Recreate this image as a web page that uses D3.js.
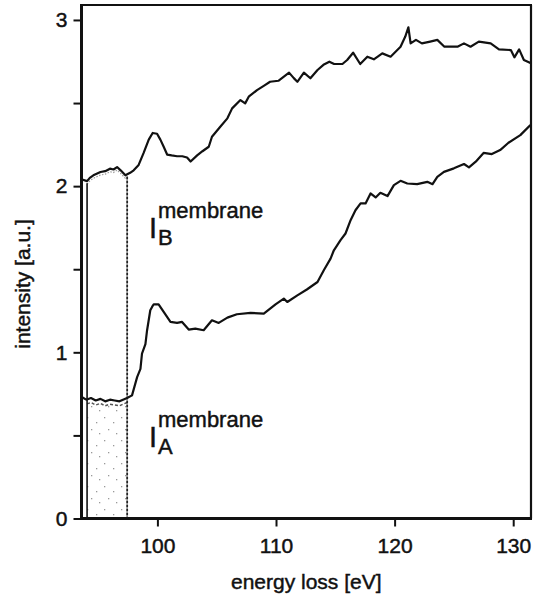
<!DOCTYPE html>
<html><head><meta charset="utf-8">
<script src="https://cdn.jsdelivr.net/npm/d3@7"></script>
<style>
body{margin:0;background:#fff;}
svg{display:block;font-family:"Liberation Sans",Arial,Helvetica,sans-serif;}
svg text{stroke:#111;stroke-width:0.45px;}
</style></head>
<body><svg id="c" width="533" height="601"></svg>
<script>
// ---- data ----
const energyB = [93.65,94.07,94.3,94.6,95.2,95.6,96.0,96.3,96.6,96.9,97.3,97.7,98.0,98.4,98.84,99.27,99.6,99.97,100.25,100.53,100.82,101.2,101.66,102.1,102.5,102.8,103.35,103.8,104.33,104.6,105.3,105.9,106.3,107.0,107.4,107.7,108.4,109.0,109.5,110.2,111.1,111.5,111.8,112.35,112.9,113.5,114.0,114.5,114.9,115.6,116.0,116.5,117.1,117.7,118.25,118.96,119.66,120.1,120.5,120.9,121.16,121.35,121.8,122.3,123.0,123.6,124.2,125.3,125.85,126.4,127.1,128.1,128.8,129.8,130.1,130.5,130.9,131.5];
const intensityB = [2.04,2.03,2.05,2.065,2.085,2.09,2.105,2.1,2.115,2.095,2.065,2.08,2.095,2.125,2.2,2.28,2.32,2.315,2.28,2.237,2.19,2.185,2.18,2.18,2.172,2.148,2.185,2.21,2.237,2.297,2.357,2.408,2.468,2.518,2.498,2.538,2.578,2.605,2.628,2.634,2.683,2.65,2.628,2.683,2.649,2.699,2.73,2.749,2.735,2.735,2.759,2.803,2.735,2.779,2.763,2.799,2.779,2.81,2.839,2.9,2.956,2.859,2.88,2.859,2.87,2.88,2.839,2.839,2.859,2.839,2.87,2.859,2.823,2.819,2.775,2.823,2.759,2.739];
const energyA = [93.65,94.0,94.4,94.8,95.2,95.6,96.0,96.4,96.8,97.1,97.44,97.86,98.29,98.57,98.7,98.99,99.13,99.4,99.55,99.69,100.1,100.53,101.1,101.66,102.08,102.64,103.2,103.9,104.6,105.17,105.9,106.7,107.85,108.97,109.96,110.66,110.95,111.8,112.6,113.5,114.03,114.6,114.88,115.44,115.86,116.29,116.7,117.13,117.55,117.97,118.4,118.8,119.4,119.94,120.5,121.07,121.9,122.76,123.2,123.6,124.16,125.0,125.85,126.27,126.84,127.5,128.2,128.9,129.6,130.6,131.45];
const intensityA = [0.73,0.715,0.725,0.71,0.72,0.705,0.715,0.71,0.705,0.715,0.725,0.741,0.851,0.90,0.992,1.05,1.133,1.253,1.273,1.289,1.289,1.243,1.183,1.177,1.183,1.137,1.143,1.133,1.193,1.177,1.209,1.229,1.237,1.233,1.289,1.323,1.303,1.343,1.378,1.423,1.494,1.564,1.614,1.675,1.715,1.795,1.855,1.896,1.896,1.956,1.932,1.96,1.94,2.006,2.032,2.016,2.012,2.026,2.012,2.056,2.086,2.107,2.133,2.113,2.147,2.2,2.193,2.217,2.261,2.307,2.367];
const windowEnergy = [94.07, 97.45];
const xTicks = [100,110,120,130];
const yTicks = [0,0.5,1,1.5,2,2.5,3];
const xTitle = "energy loss [eV]";
const yTitle = "intensity [a.u.]";

// ---- layout ----
const L=81.5, R=531, T=5, B=518.5;
const svg = d3.select("#c");
const x = d3.scaleLinear().domain([93.6,131.5]).range([L,R]);
const y = d3.scaleLinear().domain([0,3.09]).range([B,T]);

const defs = svg.append("defs");
defs.append("clipPath").attr("id","clip").append("rect")
  .attr("x",L).attr("y",T).attr("width",R-L).attr("height",B-T);
const pat = defs.append("pattern").attr("id","stip").attr("patternUnits","userSpaceOnUse")
  .attr("width",17).attr("height",23);
[[2,3],[11,8],[6,15],[14,19]].forEach(p=>pat.append("rect").attr("x",p[0]).attr("y",p[1])
  .attr("width",1.3).attr("height",1.3).attr("fill","#999"));

const B_ = energyB.map((e,i)=>[e,intensityB[i]]);
const A_ = energyA.map((e,i)=>[e,intensityA[i]]);
const line = d3.line().x(d=>x(d[0])).y(d=>y(d[1]));
const interp = (arr,e)=>{for(let i=1;i<arr.length;i++){if(arr[i][0]>=e){const t=(e-arr[i-1][0])/(arr[i][0]-arr[i-1][0]);return arr[i-1][1]+t*(arr[i][1]-arr[i-1][1]);}}return arr[arr.length-1][1];};
const [w0,w1]=windowEnergy;
const inWin = arr => [[w0,interp(arr,w0)]].concat(arr.filter(d=>d[0]>w0&&d[0]<w1)).concat([[w1,interp(arr,w1)]]);
const Aw = inWin(A_), Bw = inWin(B_);

const g = svg.append("g").attr("clip-path","url(#clip)");
const area = d3.area().x(d=>x(d[0])).y0(y(0)).y1(d=>y(d[1])+5);
g.append("path").datum(Aw).attr("d",area).attr("fill","url(#stip)");
g.append("path").datum(Bw).attr("d",line).attr("transform","translate(0,3)")
  .attr("fill","none").attr("stroke","#999").attr("stroke-width",1.2).attr("stroke-dasharray","1.5,1.5");
g.append("path").datum(Aw).attr("d",line).attr("transform","translate(0,4.5)")
  .attr("fill","none").attr("stroke","#555").attr("stroke-width",1.5).attr("stroke-dasharray","3,2");
g.append("line").attr("x1",x(w0)).attr("x2",x(w0)).attr("y1",y(interp(B_,w0))+2).attr("y2",y(0))
  .attr("stroke","#111").attr("stroke-width",1.6);
g.append("line").attr("x1",x(w1)).attr("x2",x(w1)).attr("y1",y(interp(B_,w1))+2).attr("y2",y(0))
  .attr("stroke","#222").attr("stroke-width",1.8).attr("stroke-dasharray","3,1");
g.append("path").datum(B_).attr("d",line).attr("fill","none").attr("stroke","#111").attr("stroke-width",2.2).attr("stroke-linejoin","round");
g.append("path").datum(A_).attr("d",line).attr("fill","none").attr("stroke","#111").attr("stroke-width",2.2).attr("stroke-linejoin","round");

// axes
const ya = svg.append("g").attr("transform",`translate(${L},0)`)
  .call(d3.axisLeft(y).tickValues(yTicks).tickSize(8).tickPadding(6).tickFormat(d=>Number.isInteger(d)?d:""));
const xa = svg.append("g").attr("transform",`translate(0,${B})`)
  .call(d3.axisBottom(x).tickValues(xTicks).tickSize(8).tickPadding(12).tickFormat(d3.format("d")));
[ya,xa].forEach(a=>{a.select(".domain").remove();a.selectAll(".tick line").attr("stroke","#111").attr("stroke-width",2);
  a.selectAll("text").attr("font-size",21).attr("fill","#111").attr("font-family","'Liberation Sans',Arial,sans-serif");});

// frame
svg.append("line").attr("x1",L).attr("x2",L).attr("y1",T-1).attr("y2",B+1.5).attr("stroke","#111").attr("stroke-width",3);
svg.append("line").attr("x1",L-1.5).attr("x2",R+1).attr("y1",B).attr("y2",B).attr("stroke","#111").attr("stroke-width",3);
svg.append("line").attr("x1",L).attr("x2",R+1).attr("y1",T).attr("y2",T).attr("stroke","#111").attr("stroke-width",2);
svg.append("line").attr("x1",R).attr("x2",R).attr("y1",T).attr("y2",B).attr("stroke","#111").attr("stroke-width",2.2);

// titles
svg.append("text").attr("x",(L+R)/2).attr("y",589).attr("text-anchor","middle").attr("font-size",21).attr("fill","#111").text(xTitle);
svg.append("text").attr("transform","translate(30,284) rotate(-90)").attr("text-anchor","middle").attr("font-size",21).attr("fill","#111").text(yTitle);

// labels
function lab(sub, base){
  const t = svg.append("g");
  t.append("text").attr("x",149).attr("y",base-7).attr("font-size",29).attr("fill","#111").text("I");
  t.append("text").attr("x",158).attr("y",base-27).attr("font-size",22).attr("fill","#111").text("membrane");
  t.append("text").attr("x",158).attr("y",base).attr("font-size",22).attr("fill","#111").text(sub);
}
lab("B",245);
lab("A",454);
</script></body></html>
